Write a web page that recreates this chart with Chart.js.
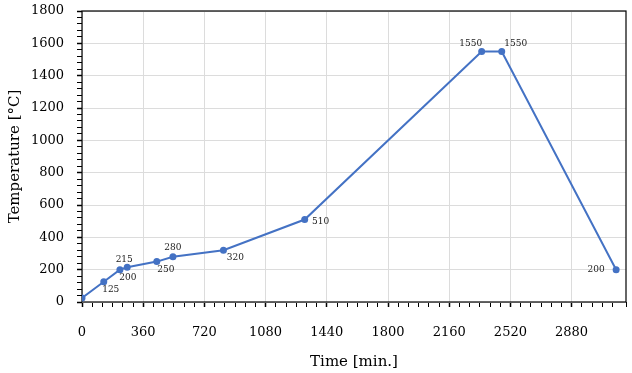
<!DOCTYPE html>
<html>
<head>
<meta charset="utf-8">
<script src="https://cdn.jsdelivr.net/npm/chart.js@4/dist/chart.umd.min.js"></script>
<style>
  html, body { margin: 0; padding: 0; background: #fff; }
</style>
</head>
<body>
<canvas id="tempChart" width="632" height="373"></canvas>
<script>
// Firing schedule: time (min) vs temperature (°C)
const timeMin = [0, 128, 223, 266, 440, 535, 832, 1310, 2351, 2469, 3142];
const tempC = [25, 125, 200, 215, 250, 280, 320, 510, 1550, 1550, 200];
const pointLabels = ['', '125', '200', '215', '250', '280', '320', '510', '1550', '1550', '200'];

// axis ranges / tick spacing
const xRange = [0, 3200];
const xMajorStep = 360;
const xMinorStep = 60;
const yRange = [0, 1800];
const yMajorStep = 200;
const yMinorStep = 40;

// where each value label sits relative to its point (px)
const labelOffsets = [[0, 0], [7, 8], [8, 8], [-3, -8], [9, 8], [0, -9], [12, 7], [16, 2], [-11, -8], [14, -8], [-20, 0]];

const serif = 'DejaVu Serif';
const lineBlue = 'rgb(68, 114, 196)';
const gridGray = '#dcdcdc';

const isMajor = (v, step) => Math.abs(v % step) < 1e-6;

const frameBox = {
  id: 'frameBox',
  beforeDatasetsDraw(chart) {
    const { ctx, chartArea: a } = chart;
    ctx.save();
    ctx.strokeStyle = '#000';
    ctx.lineWidth = 1.2;
    ctx.strokeRect(a.left, a.top, a.right - a.left, a.bottom - a.top);
    ctx.restore();
  }
};

const valueLabels = {
  id: 'valueLabels',
  afterDatasetsDraw(chart) {
    const { ctx } = chart;
    const meta = chart.getDatasetMeta(0);
    ctx.save();
    ctx.font = '9px "' + serif + '"';
    ctx.fillStyle = '#222';
    ctx.textAlign = 'center';
    ctx.textBaseline = 'middle';
    meta.data.forEach((pt, i) => {
      if (!pointLabels[i]) return;
      const [dx, dy] = labelOffsets[i];
      ctx.fillText(pointLabels[i], pt.x + dx, pt.y + dy);
    });
    ctx.restore();
  }
};

function tickGrid(step) {
  return {
    color: (c) => c.tick && isMajor(c.tick.value, step) ? gridGray : 'rgba(0,0,0,0)',
    tickColor: '#000',
    tickWidth: (c) => c.tick && isMajor(c.tick.value, step) ? 1.5 : 1,
    tickLength: 5,
    lineWidth: 1
  };
}

new Chart(document.getElementById('tempChart'), {
  type: 'line',
  data: {
    datasets: [{
      data: timeMin.map((t, i) => ({ x: t, y: tempC[i] })),
      borderColor: lineBlue,
      backgroundColor: lineBlue,
      borderWidth: 2,
      pointRadius: 2.5,
      pointHoverRadius: 2.5,
      tension: 0,
      fill: false
    }]
  },
  options: {
    responsive: false,
    animation: false,
    layout: { padding: { top: 11, right: 6, left: 0, bottom: 0 } },
    plugins: {
      legend: { display: false },
      tooltip: { enabled: false }
    },
    scales: {
      x: {
        type: 'linear',
        min: xRange[0],
        max: xRange[1],
        grid: tickGrid(xMajorStep),
        border: { display: false },
        afterFit: (s) => { s.height = 71; s.paddingLeft = 0; s.paddingRight = 0; },
        ticks: {
          stepSize: xMinorStep,
          autoSkip: false,
          maxRotation: 0,
          padding: 18,
          color: '#000',
          font: { family: serif, size: 13 },
          callback: (v) => isMajor(v, xMajorStep) ? String(v) : ''
        },
        title: {
          display: true,
          text: 'Time [min.]',
          color: '#000',
          font: { family: serif, size: 15 },
          padding: { top: 0, bottom: 2 }
        }
      },
      y: {
        min: yRange[0],
        max: yRange[1],
        grid: tickGrid(yMajorStep),
        border: { display: false },
        afterFit: (s) => { s.width = 82; s.paddingTop = 0; s.paddingBottom = 0; },
        ticks: {
          stepSize: yMinorStep,
          autoSkip: false,
          padding: 13,
          color: '#000',
          font: { family: serif, size: 13 },
          callback: (v) => isMajor(v, yMajorStep) ? String(v) : ''
        },
        title: {
          display: true,
          text: 'Temperature [°C]',
          color: '#000',
          font: { family: serif, size: 15 },
          padding: { top: 6, bottom: 0 }
        }
      }
    }
  },
  plugins: [frameBox, valueLabels]
});
</script>
</body>
</html>
